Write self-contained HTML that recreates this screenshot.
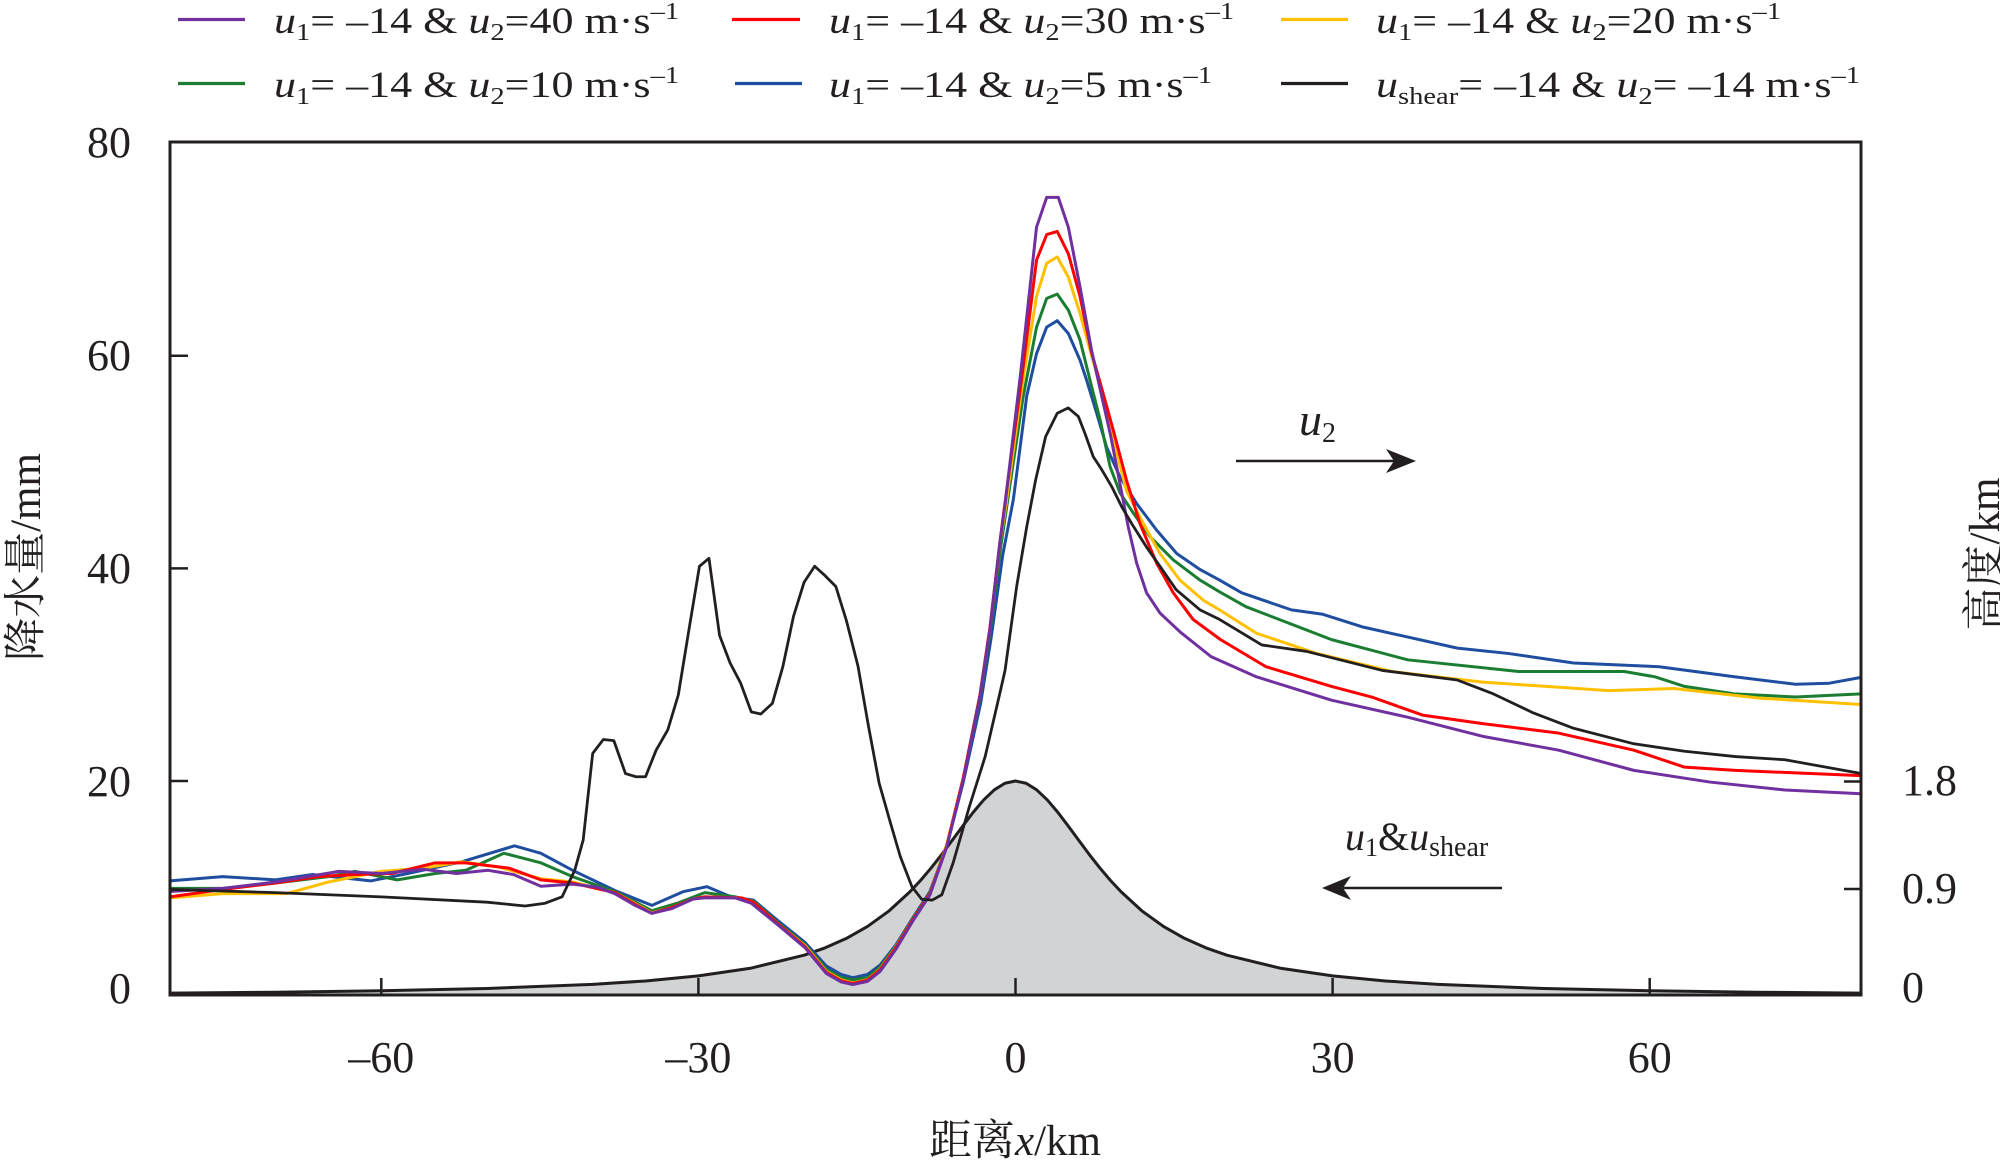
<!DOCTYPE html>
<html>
<head>
<meta charset="utf-8">
<style>
html,body{margin:0;padding:0;background:#fff;}
svg{display:block;}
text{font-family:"Liberation Serif","Noto Serif CJK SC",serif;fill:#231f20;}
.ln{fill:none;stroke-width:3;stroke-linejoin:round;stroke-linecap:round;vector-effect:non-scaling-stroke;}
</style>
</head>
<body>
<svg width="2000" height="1163" viewBox="0 0 2000 1163" xmlns="http://www.w3.org/2000/svg">
<rect x="0" y="0" width="2000" height="1163" fill="#fff"/>

<!-- Legend -->
<g stroke-width="3.2">
<line x1="178" y1="19.5" x2="245" y2="19.5" stroke="#7030a0"/>
<line x1="732" y1="19.5" x2="800" y2="19.5" stroke="#ff0000"/>
<line x1="1281" y1="19.5" x2="1348" y2="19.5" stroke="#ffc000"/>
<line x1="178" y1="83.5" x2="245" y2="83.5" stroke="#1b7d32"/>
<line x1="735" y1="83.5" x2="802" y2="83.5" stroke="#1f4ea0"/>
<line x1="1281" y1="83.5" x2="1348" y2="83.5" stroke="#231f20"/>
</g>
<g transform="translate(274 33) scale(1.19 1)"><text font-size="37"><tspan font-style="italic">u</tspan><tspan font-size="24" dy="7">1</tspan><tspan dy="-7">= –14 &amp; </tspan><tspan font-style="italic">u</tspan><tspan font-size="24" dy="7">2</tspan><tspan dy="-7">=40 m·s</tspan><tspan font-size="24" dy="-14">–1</tspan></text></g>
<g transform="translate(829 33) scale(1.19 1)"><text font-size="37"><tspan font-style="italic">u</tspan><tspan font-size="24" dy="7">1</tspan><tspan dy="-7">= –14 &amp; </tspan><tspan font-style="italic">u</tspan><tspan font-size="24" dy="7">2</tspan><tspan dy="-7">=30 m·s</tspan><tspan font-size="24" dy="-14">–1</tspan></text></g>
<g transform="translate(1376 33) scale(1.19 1)"><text font-size="37"><tspan font-style="italic">u</tspan><tspan font-size="24" dy="7">1</tspan><tspan dy="-7">= –14 &amp; </tspan><tspan font-style="italic">u</tspan><tspan font-size="24" dy="7">2</tspan><tspan dy="-7">=20 m·s</tspan><tspan font-size="24" dy="-14">–1</tspan></text></g>
<g transform="translate(274 97) scale(1.19 1)"><text font-size="37"><tspan font-style="italic">u</tspan><tspan font-size="24" dy="7">1</tspan><tspan dy="-7">= –14 &amp; </tspan><tspan font-style="italic">u</tspan><tspan font-size="24" dy="7">2</tspan><tspan dy="-7">=10 m·s</tspan><tspan font-size="24" dy="-14">–1</tspan></text></g>
<g transform="translate(829 97) scale(1.19 1)"><text font-size="37"><tspan font-style="italic">u</tspan><tspan font-size="24" dy="7">1</tspan><tspan dy="-7">= –14 &amp; </tspan><tspan font-style="italic">u</tspan><tspan font-size="24" dy="7">2</tspan><tspan dy="-7">=5 m·s</tspan><tspan font-size="24" dy="-14">–1</tspan></text></g>
<g transform="translate(1376 97) scale(1.19 1)"><text font-size="37"><tspan font-style="italic">u</tspan><tspan font-size="24" dy="7">shear</tspan><tspan dy="-7">= –14 &amp; </tspan><tspan font-style="italic">u</tspan><tspan font-size="24" dy="7">2</tspan><tspan dy="-7">= –14 m·s</tspan><tspan font-size="24" dy="-14">–1</tspan></text></g>

<!-- Data -->
<g transform="translate(1015.5 993.6) scale(10.57 -10.63)">
<polygon fill="#d2d3d4" stroke="none" points="-80,0.04 -70,0.13 -60,0.27 -50,0.48 -40,0.87 -35,1.19 -30,1.67 -25,2.4 -20,3.61 -18,4.31 -16,5.19 -14,6.32 -12,7.75 -10,9.57 -9,10.63 -8,11.8 -7,13.06 -6,14.4 -5,15.75 -4,17.06 -3,18.23 -2,19.17 -1,19.79 0,20 1,19.79 2,19.17 3,18.23 4,17.06 5,15.75 6,14.4 7,13.06 8,11.8 9,10.63 10,9.57 12,7.75 14,6.32 16,5.19 18,4.31 20,3.61 25,2.4 30,1.67 35,1.19 40,0.87 50,0.48 60,0.27 70,0.13 80,0.04 80,0 -80,0"/>
<polyline class="ln" stroke="#231f20" points="-80,0.04 -70,0.13 -60,0.27 -50,0.48 -40,0.87 -35,1.19 -30,1.67 -25,2.4 -20,3.61 -18,4.31 -16,5.19 -14,6.32 -12,7.75 -10,9.57 -9,10.63 -8,11.8 -7,13.06 -6,14.4 -5,15.75 -4,17.06 -3,18.23 -2,19.17 -1,19.79 0,20 1,19.79 2,19.17 3,18.23 4,17.06 5,15.75 6,14.4 7,13.06 8,11.8 9,10.63 10,9.57 12,7.75 14,6.32 16,5.19 18,4.31 20,3.61 25,2.4 30,1.67 35,1.19 40,0.87 50,0.48 60,0.27 70,0.13 80,0.04"/>

<!-- blue u2=5 -->
<polyline class="ln" stroke="#1f4ea0" points="-80,10.6 -75,11 -70,10.7 -66.5,11.2 -61,10.6 -57.5,11.3 -52.4,12.4 -47.4,13.9 -44.9,13.2 -41.9,11.6 -37.9,9.7 -34.4,8.3 -31.4,9.6 -29.2,10.06 -26.9,9.1 -24.8,8.8 -22.4,6.8 -19.9,4.8 -17.9,2.6 -16.5,1.8 -15.4,1.5 -14,1.8 -12.8,2.7 -11.3,4.6 -9.67,7.2 -8.09,9.6 -6.5,13.9 -4.94,19.9 -3.3,27.3 -2.3,33.5 -1.2,41.3 -0.2,46.5 1.06,56.2 1.99,60.2 2.95,62.7 3.95,63.3 5,62.1 6.1,59.6 6.73,57.7 7.68,54.6 8.62,51.4 9.89,48.6 11.46,46.1 13.35,43.6 15.25,41.4 17.45,39.9 19.3,38.9 21.4,37.7 26.1,36.1 29,35.7 32.8,34.5 41.8,32.5 46.6,32 52.8,31.1 60.9,30.75 68.1,29.8 73.8,29.1 77,29.2 80,29.75"/>
<!-- green u2=10 -->
<polyline class="ln" stroke="#1b7d32" points="-80,9.9 -75,9.9 -70,10.4 -65,11 -62.5,11.5 -58.5,10.7 -54.9,11.3 -52,11.6 -48.4,13.2 -44.9,12.3 -41.9,11 -37.9,9.6 -34.4,7.8 -32,8.5 -29.4,9.5 -26.5,9.1 -24.8,8.7 -22.4,6.6 -19.9,4.6 -17.9,2.3 -16.5,1.5 -15.4,1.3 -14,1.5 -12.8,2.5 -11.3,4.5 -9.67,7.1 -8.09,9.5 -6.5,14 -4.94,20.2 -3.36,27.8 -2.4,34.1 -1.4,42 -0.8,46 0.7,56 1.99,62.7 2.95,65.4 3.95,65.8 5,64.3 6.1,61.5 7.05,57.7 8,54 8.94,49.6 9.89,47.1 11.15,45.2 12.72,43 14.93,40.8 17.45,38.9 19.3,37.8 21.8,36.4 29.9,33.3 37.1,31.4 47.6,30.3 57.6,30.3 60.5,29.8 63.3,28.9 68,28.2 73.8,27.9 80,28.2"/>
<!-- yellow u2=20 -->
<polyline class="ln" stroke="#ffc000" points="-80,9 -75,9.4 -69,9.4 -65,10.5 -60,11.5 -56,11.8 -52.4,12.4 -48.9,11.9 -44.9,10.8 -41.9,10.5 -37.9,9.5 -34.4,7.6 -32.5,8.1 -30.5,8.9 -29.4,9.1 -26,9 -24.8,8.6 -22.4,6.5 -19.9,4.5 -17.9,2.1 -16.5,1.3 -15.4,1 -14,1.3 -12.8,2.3 -11.3,4.4 -9.67,7 -8.09,9.4 -6.5,14 -4.94,20.3 -3.36,28.1 -2.42,34.4 -1.45,42.5 -0.9,46 0.6,57 1.99,65.6 2.95,68.7 3.95,69.3 5,67.4 6.1,64 7.2,60 8.2,56.5 9.3,52 10.5,47.3 12.1,44.2 13.67,41.4 15.56,38.9 17.77,37 19.3,36.1 22.8,33.9 28.5,32 35.6,30.3 44.2,29.3 56.1,28.5 62.3,28.7 70.4,27.8 80,27.2"/>
<!-- red u2=30 -->
<polyline class="ln" stroke="#ff0000" points="-80,9.1 -75,9.8 -70,10.4 -66,11 -62.5,11.2 -59,11.3 -54.9,12.3 -52,12.3 -47.9,11.8 -44.9,10.7 -41.9,10.4 -37.9,9.5 -36,8.4 -34.4,7.55 -32.5,8.1 -30.5,8.9 -29.4,9.1 -25.9,9 -24.8,8.6 -22.4,6.5 -19.9,4.4 -17.9,2 -16.5,1.2 -15.4,0.95 -14,1.25 -12.8,2.25 -11.3,4.35 -9.67,7 -8.09,9.4 -6.5,13.9 -4.94,20.3 -3.36,28.1 -2.42,34.4 -1.47,42.5 -0.99,46.2 0.6,58 1.99,69 2.95,71.4 3.95,71.7 5,69.6 6.1,65.6 7.2,60.3 8,57.5 9.25,53 10.5,48.3 11.78,44.2 13.35,40.5 14.93,37.7 16.8,35.2 19.4,33.3 23.7,30.75 29.9,28.9 33.7,27.9 38.5,26.2 44.2,25.4 51.4,24.5 58.5,22.9 63.3,21.3 68.1,21 80,20.5"/>
<!-- purple u2=40 -->
<polyline class="ln" stroke="#7030a0" points="-80,9.6 -75,9.9 -70,10.5 -64,11.5 -60,11.3 -56,11.7 -52.9,11.3 -49.9,11.6 -47.5,11.2 -44.9,10.1 -41.9,10.3 -39.5,10 -37.9,9.4 -36,8.3 -34.4,7.55 -32.5,8 -30.5,8.9 -29.4,9 -26.5,9 -25,8.5 -22.4,6.4 -19.9,4.3 -17.9,1.9 -16.5,1.1 -15.4,0.85 -14,1.15 -12.8,2.1 -11.3,4.2 -9.67,6.9 -8.09,9.3 -6.5,13.8 -4.94,20.1 -3.36,28 -2.42,34.3 -1.47,42.5 -0.99,46 0.5,58.5 1.99,72.1 2.95,74.9 4.05,74.9 5,72.1 6.1,66.5 7.2,60.5 8.2,56 9,52.5 10.05,47.1 10.67,43.9 11.46,40.5 12.4,37.7 13.67,35.8 15.6,34 18.5,31.7 22.8,29.8 29.9,27.6 37.1,26 44.2,24.2 51.4,22.9 58.5,21 65.7,19.9 72.8,19.15 80,18.8"/>
<!-- black shear -->
<polyline class="ln" stroke="#231f20" style="stroke-width:2.8" points="-80,9.8 -70,9.5 -60,9.1 -50,8.6 -46.4,8.24 -44.5,8.5 -42.9,9.1 -41.7,11.6 -40.9,14.45 -40,22.6 -39,23.9 -38,23.8 -36.9,20.7 -35.9,20.4 -35,20.4 -34,22.9 -32.9,24.8 -31.9,28.1 -30.9,34.2 -29.9,40.2 -29,40.95 -28,33.7 -27,31.1 -26,29.2 -25,26.5 -24.1,26.3 -23,27.3 -22,30.8 -21,35.5 -20,38.7 -19,40.2 -18,39.3 -17,38.3 -16,35.1 -14.9,30.8 -13.9,25.1 -12.9,19.8 -11.9,16.3 -10.9,12.9 -9.8,10.06 -8.87,8.87 -7.87,8.8 -6.97,9.3 -5.9,12.3 -4.36,17.6 -2.87,22.3 -1.4,28.6 -0.99,30.4 0.11,38.3 1.06,43.9 1.9,48.3 2.85,52.4 3.95,54.6 4.99,55.1 5.94,54.3 6.57,52.7 7.36,50.5 8.15,49.3 9.1,47.7 10.05,45.8 11,44.2 12.4,42 13.67,40.2 15.2,38 17.45,36.1 19.3,35.2 23.3,32.8 27.5,32.2 34.7,30.4 41.8,29.5 45.2,28.2 49,26.4 52.8,24.96 58.5,23.5 63.3,22.8 68.1,22.3 72.8,22 80,20.7"/>
</g>

<!-- Frame and ticks -->
<rect x="170" y="142" width="1691" height="853" fill="none" stroke="#231f20" stroke-width="3"/>
<g stroke="#231f20" stroke-width="2.5">
<line x1="170" y1="355.8" x2="188" y2="355.8"/>
<line x1="170" y1="568.4" x2="188" y2="568.4"/>
<line x1="170" y1="781" x2="188" y2="781"/>
<line x1="1861" y1="781.5" x2="1844" y2="781.5"/>
<line x1="1861" y1="889" x2="1844" y2="889"/>
<line x1="381.3" y1="995" x2="381.3" y2="978"/>
<line x1="698.4" y1="995" x2="698.4" y2="978"/>
<line x1="1015.5" y1="995" x2="1015.5" y2="978"/>
<line x1="1332.6" y1="995" x2="1332.6" y2="978"/>
<line x1="1649.7" y1="995" x2="1649.7" y2="978"/>
</g>

<!-- Tick labels -->
<g font-size="44" text-anchor="end">
<text x="131" y="157">80</text>
<text x="131" y="370">60</text>
<text x="131" y="583">40</text>
<text x="131" y="796">20</text>
<text x="131" y="1003">0</text>
</g>
<g font-size="44" text-anchor="start">
<text x="1902" y="795">1.8</text>
<text x="1902" y="903">0.9</text>
<text x="1902" y="1002">0</text>
</g>
<g font-size="44" text-anchor="middle">
<text x="381.3" y="1072">–60</text>
<text x="698.4" y="1072">–30</text>
<text x="1015.5" y="1072">0</text>
<text x="1332.6" y="1072">30</text>
<text x="1649.7" y="1072">60</text>
</g>

<!-- Axis titles -->
<text x="1015" y="1155" text-anchor="middle" font-size="43">距离<tspan font-style="italic">x</tspan>/km</text>
<text transform="translate(40 557) rotate(-90)" text-anchor="middle" font-size="43">降水量/mm</text>
<text transform="translate(1999 554) rotate(-90)" text-anchor="middle" font-size="43">高度/km</text>

<!-- Annotations -->
<text x="1299" y="435" font-size="46"><tspan font-style="italic">u</tspan><tspan font-size="28" dy="7">2</tspan></text>
<line x1="1236" y1="461" x2="1398" y2="461" stroke="#231f20" stroke-width="2.5"/>
<polygon points="1416,461 1386,449 1394,461 1386,473" fill="#231f20"/>

<text x="1345" y="850" font-size="40"><tspan font-style="italic">u</tspan><tspan font-size="26" dy="6">1</tspan><tspan dy="-6">&amp;</tspan><tspan font-style="italic">u</tspan><tspan font-size="28" dy="6">shear</tspan></text>
<line x1="1340" y1="888" x2="1502" y2="888" stroke="#231f20" stroke-width="2.5"/>
<polygon points="1322,888 1351,876 1343,888 1351,900" fill="#231f20"/>
</svg>
</body>
</html>
